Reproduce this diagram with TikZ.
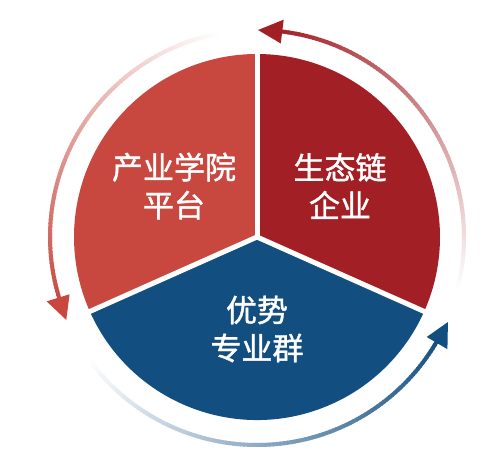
\documentclass[tikz,border=0pt]{standalone}
\usepackage{fontspec}
\newfontfamily\cjk[FakeBold=1.3]{Noto Sans CJK SC}
\usetikzlibrary{calc}
\definecolor{lred}{HTML}{C8473F}
\definecolor{dred}{HTML}{A21F25}
\definecolor{dblue}{HTML}{134E80}
\newcommand\gradarc[4]{%
  \pgfmathsetmacro\gn{int(abs(#3-#2))}%
  \pgfmathsetmacro\gd{(#3-#2)/\gn*1.4}%
  \foreach \i in {0,...,\gn}{%
    \pgfmathsetmacro\aa{#2+(#3-#2)*\i/\gn}%
    \pgfmathsetmacro\pp{int(100*\i/\gn)}%
    \draw[line width=4, line cap=butt, color=#1!\pp!white] (O) ++(\aa:#4) arc[start angle=\aa, delta angle=\gd, radius=#4];
  }}
\begin{document}
\begin{tikzpicture}[x=1pt,y=1pt,
  lbl/.style={text=white, align=center, font=\cjk\fontsize{31}{38}\selectfont},
  sep/.style={white, line width=5}]
\useasboundingbox (0,0) rectangle (481,459);
\fill[white] (0,0) rectangle (481,459);
\coordinate (O) at (257,222);
% segments
\fill[lred] (O) -- ++(90:183) arc[start angle=90, end angle=204, radius=183] -- cycle;
\fill[dred] (O) -- ++(-24:183) arc[start angle=-24, end angle=90, radius=183] -- cycle;
\fill[dblue] (O) -- ++(204:183) arc[start angle=204, end angle=336, radius=183] -- cycle;
\draw[sep] (O) -- ++(90:186);
\draw[sep] (O) -- ++(204:186);
\draw[sep] (O) -- ++(-24:186);
% arrows
\gradarc{dred}{-15}{83}{207}
\fill[dred] ($(O)+(89.7:207)$) -- ($(O)+(83:195)$) -- ($(O)+(83:219)$) -- cycle;
\gradarc{lred}{100}{197}{207}
\fill[lred] ($(O)+(203.5:208)$) -- ($(O)+(197:196)$) -- ($(O)+(197:220)$) -- cycle;
\gradarc{dblue}{215}{329.5}{208}
\fill[dblue] ($(O)+(-24:209)$) -- ($(O)+(-30.5:197)$) -- ($(O)+(-30.5:221)$) -- cycle;
% labels
\node[lbl] (a) at (174,273) {产业学院\\平台};
\node[lbl] (b) at (340,273) {生态链\\企业};
\node[lbl] (c) at (257,130) {优势\\专业群};
\end{tikzpicture}
\end{document}
